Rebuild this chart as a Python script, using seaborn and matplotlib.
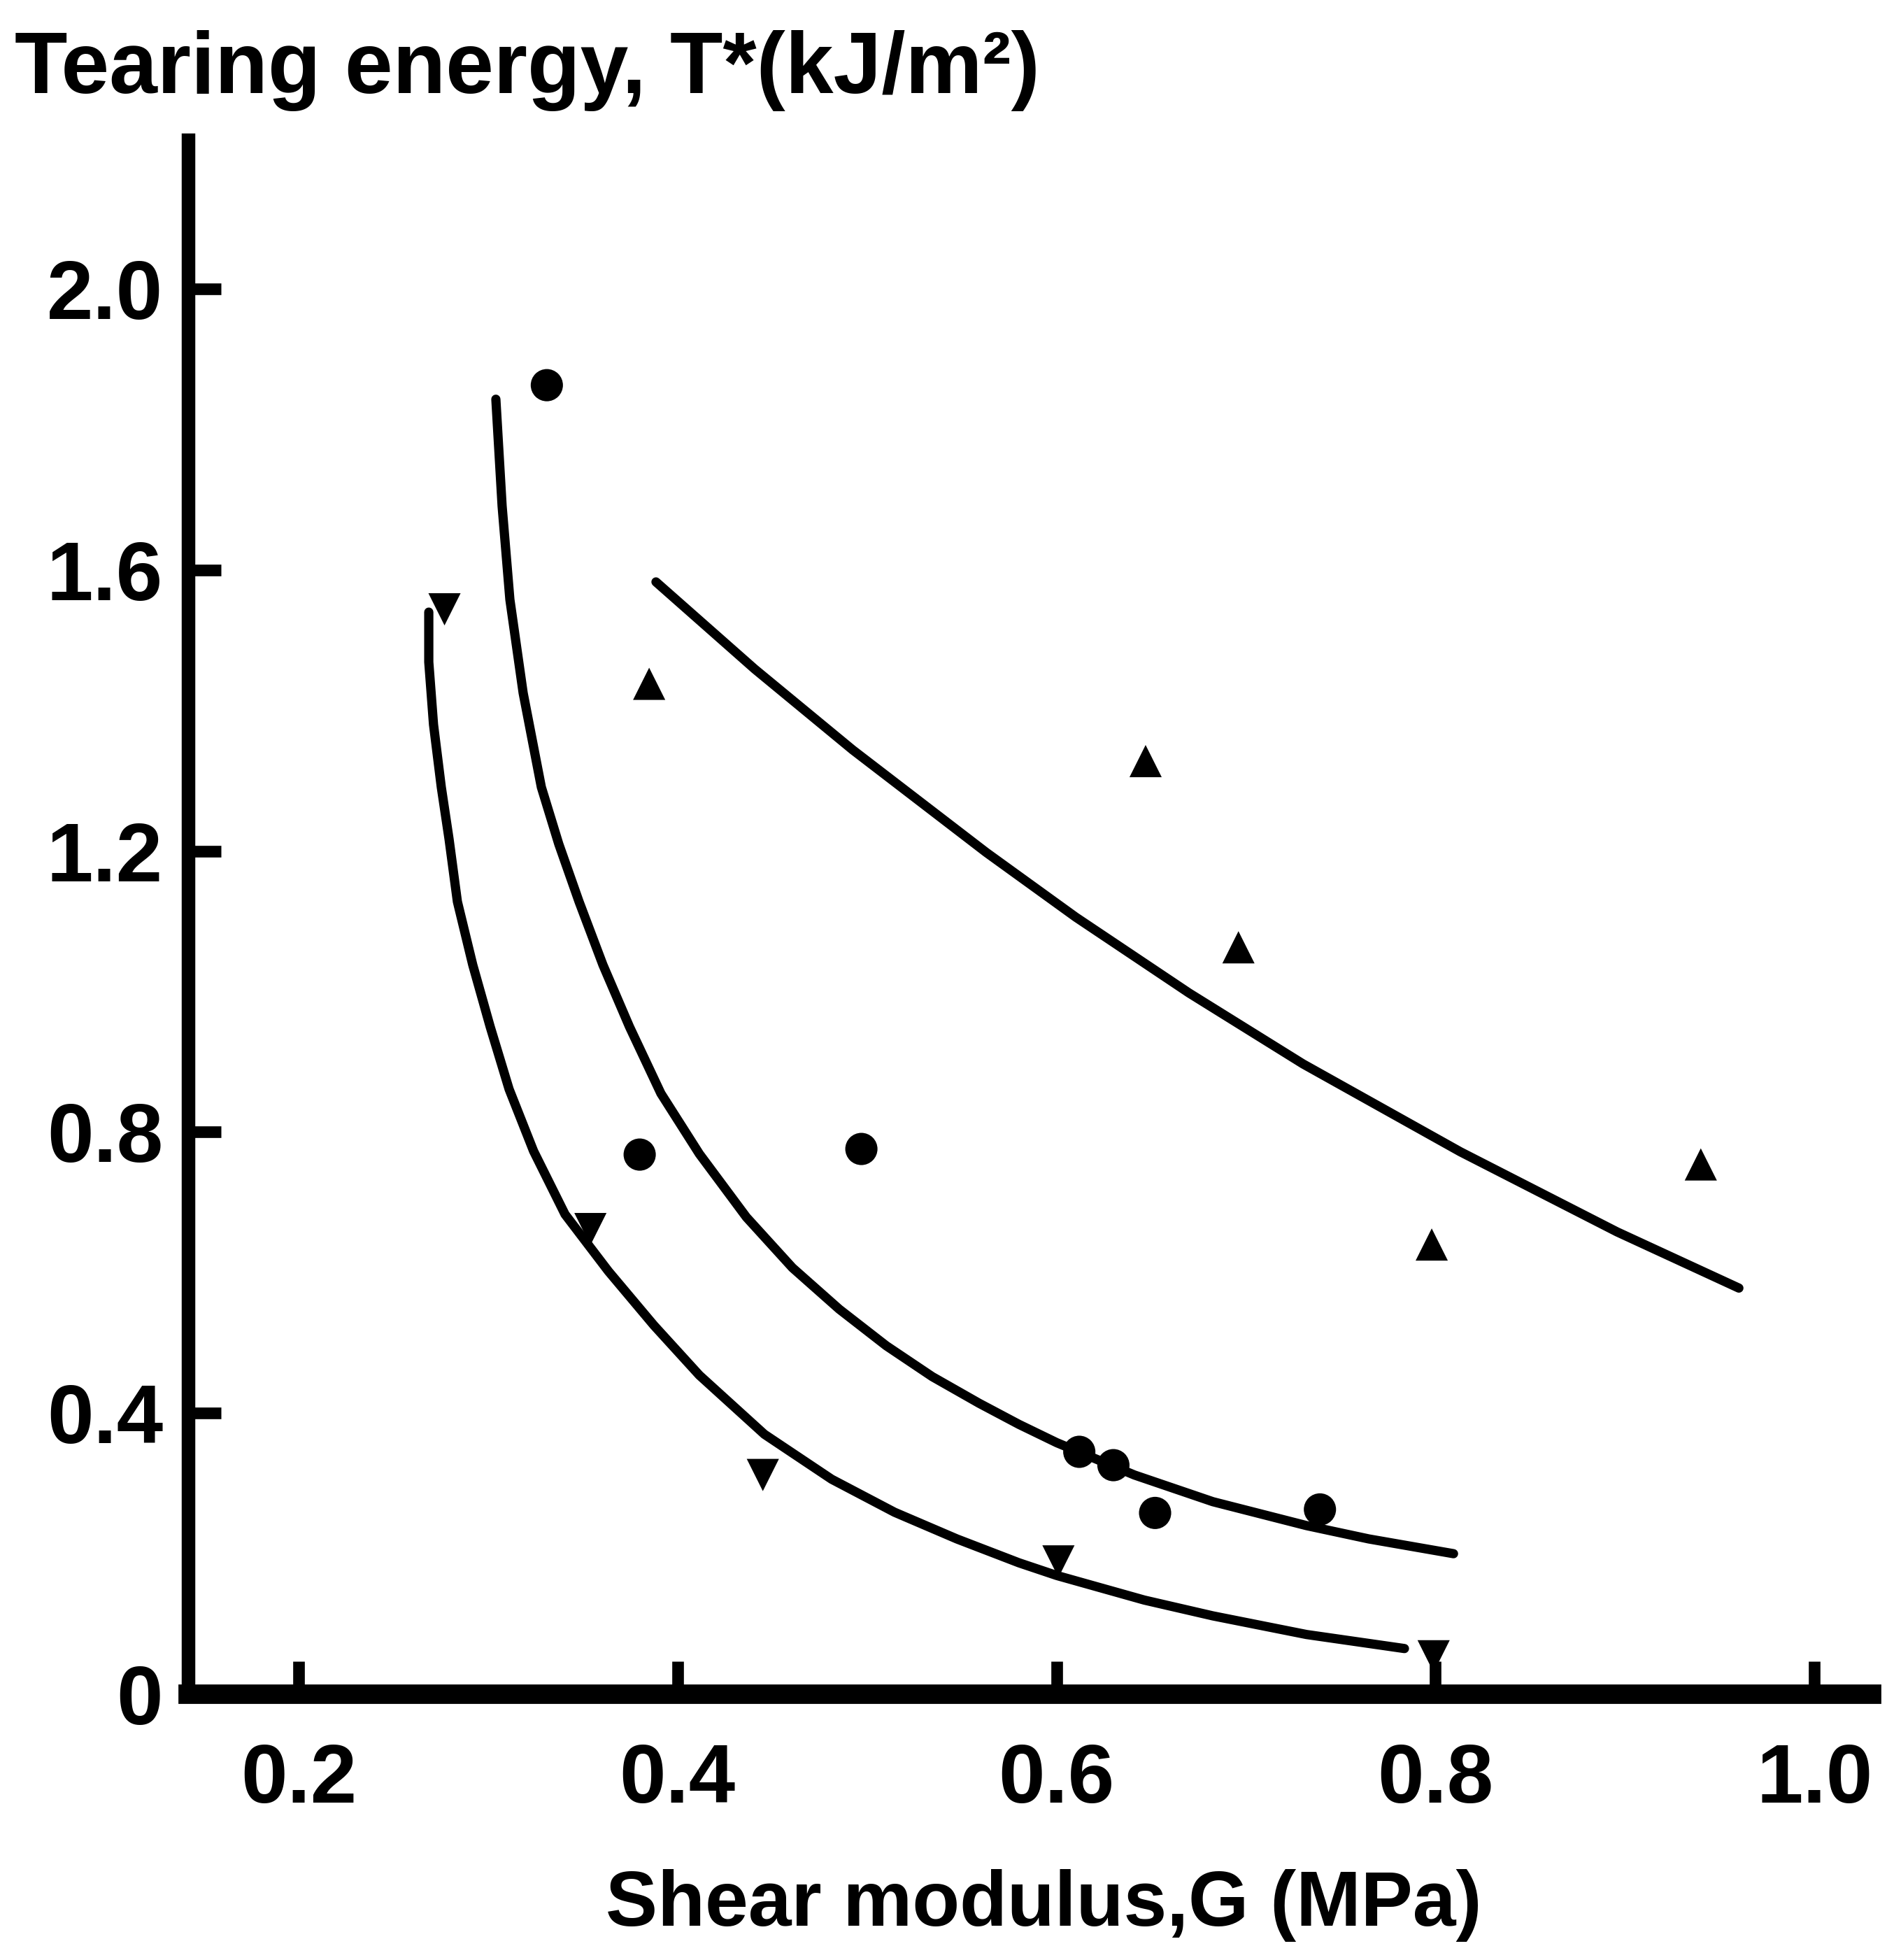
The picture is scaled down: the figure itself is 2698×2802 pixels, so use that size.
import numpy as np
import pandas as pd
import matplotlib
matplotlib.use("Agg")
import matplotlib.pyplot as plt
import seaborn as sns

# --- data ---
circle_G = [0.331, 0.380, 0.497, 0.612, 0.630, 0.652, 0.739]
circle_T = [1.863, 0.768, 0.776, 0.345, 0.326, 0.258, 0.263]

up_G = [0.385, 0.647, 0.696, 0.798, 0.940]
up_T = [1.438, 1.328, 1.063, 0.640, 0.754]

down_G = [0.277, 0.354, 0.445, 0.601, 0.799]
down_T = [1.544, 0.662, 0.312, 0.189, 0.054]

# fitted curves
top_curve_G = [0.3886, 0.4407, 0.4924, 0.5629, 0.6101, 0.6699, 0.7301, 0.8131, 0.8958, 0.9601]
top_curve_T = [1.583, 1.459, 1.344, 1.198, 1.106, 0.998, 0.897, 0.772, 0.658, 0.578]

mid_curve_G = [0.3041, 0.3074, 0.3115, 0.3185, 0.3281, 0.3373, 0.3480, 0.3606, 0.3746,
               0.3912, 0.4115, 0.4363, 0.4606, 0.4853, 0.5101, 0.5344, 0.5592, 0.5802,
               0.6001, 0.6411, 0.6825, 0.7319, 0.7648, 0.8095]
mid_curve_T = [1.843, 1.691, 1.558, 1.425, 1.291, 1.210, 1.128, 1.038, 0.950,
               0.855, 0.769, 0.679, 0.607, 0.548, 0.496, 0.452, 0.414, 0.384,
               0.358, 0.312, 0.274, 0.240, 0.221, 0.200]

low_curve_G = [0.2687, 0.2687, 0.2712, 0.2753, 0.2794, 0.2838, 0.2919, 0.3011, 0.3111,
               0.3240, 0.3406, 0.3635, 0.3875, 0.4115, 0.4458, 0.4813, 0.5145, 0.5474,
               0.5802, 0.6001, 0.6463, 0.6825, 0.7319, 0.7836]
low_curve_T = [1.540, 1.469, 1.380, 1.291, 1.217, 1.128, 1.038, 0.950, 0.861,
               0.773, 0.683, 0.602, 0.525, 0.454, 0.370, 0.306, 0.259, 0.221,
               0.187, 0.169, 0.134, 0.1115, 0.085, 0.065]

x_ticks = [0.2, 0.4, 0.6, 0.8, 1.0]
x_tick_labels = ["0.2", "0.4", "0.6", "0.8", "1.0"]
y_ticks = [0.0, 0.4, 0.8, 1.2, 1.6, 2.0]
y_tick_labels = ["0", "0.4", "0.8", "1.2", "1.6", "2.0"]

# --- styling ---
sns.set_theme(style="ticks")
plt.rcParams["font.family"] = ["Liberation Sans", "DejaVu Sans"]
plt.rcParams["font.weight"] = "bold"

fig = plt.figure(figsize=(26.98, 28.02), dpi=100)
ax = fig.add_axes([0.0997, 0.1356, 0.892, 0.793])

curves = pd.concat([
    pd.DataFrame({"G": top_curve_G, "T": top_curve_T, "fit": "top"}),
    pd.DataFrame({"G": mid_curve_G, "T": mid_curve_T, "fit": "mid"}),
    pd.DataFrame({"G": low_curve_G, "T": low_curve_T, "fit": "low"}),
])
sns.lineplot(data=curves, x="G", y="T", units="fit", estimator=None, sort=False,
             color="black", linewidth=9.5, ax=ax, legend=False)
for ln in ax.get_lines():
    ln.set_solid_capstyle("round")
    ln.set_solid_joinstyle("round")

pts = pd.concat([
    pd.DataFrame({"G": circle_G, "T": circle_T, "set": "circle"}),
    pd.DataFrame({"G": up_G, "T": up_T, "set": "up"}),
    pd.DataFrame({"G": down_G, "T": down_T, "set": "down"}),
])
sns.scatterplot(data=pts, x="G", y="T", style="set",
                markers={"circle": "o", "up": "^", "down": "v"},
                color="black", edgecolor="black", s=1100, linewidth=0,
                ax=ax, legend=False, zorder=5)

ax.set_xlim(0.1417, 1.030)
ax.set_ylim(0.0, 2.212)

ax.set_xticks(x_ticks)
ax.set_xticklabels(x_tick_labels)
ax.set_yticks(y_ticks)
ax.set_yticklabels(y_tick_labels)
ax.tick_params(axis="both", direction="in", length=34, width=12, colors="black",
               labelsize=86)
ax.tick_params(axis="x", pad=50)
ax.tick_params(axis="y", pad=26)
for lab in ax.get_xticklabels() + ax.get_yticklabels():
    lab.set_fontweight("bold")

for side in ["top", "right"]:
    ax.spines[side].set_visible(False)
ax.spines["left"].set_linewidth(14)
ax.spines["bottom"].set_linewidth(20)
ax.spines["left"].set_color("black")
ax.spines["bottom"].set_color("black")

ax.set_xlabel("")
ax.set_ylabel("")

fig.text(0.0078, 0.9525, "Tearing energy, T*(kJ/m²)", fontsize=89, fontweight="bold",
         ha="left", va="baseline", color="black")
fig.text(0.553, 0.028, "Shear modulus,G (MPa)", fontsize=80, fontweight="bold",
         ha="center", va="center", color="black")

fig.savefig("out.png", dpi=100, facecolor="white")
